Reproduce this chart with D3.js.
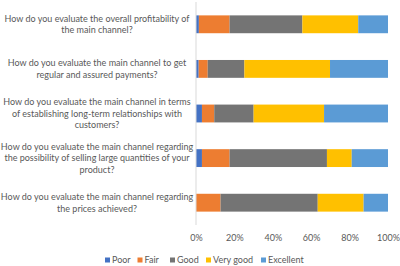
<!DOCTYPE html>
<html>
<head>
<meta charset="utf-8">
<script src="https://cdn.jsdelivr.net/npm/d3@7"></script>
<style>
  body { margin: 0; background: #fff; }
  text { font-family: Lato, "Open Sans", sans-serif; fill: #595959; }
</style>
</head>
<body>
<svg id="chart"></svg>
<script>
const questions = [
  "How do you evaluate the overall profitability of the main channel?",
  "How do you evaluate the main channel to get regular and assured payments?",
  "How do you evaluate the main channel in terms of establishing long-term relationships with customers?",
  "How do you evaluate the main channel regarding the possibility of selling large quantities of your product?",
  "How do you evaluate the main channel regarding the prices achieved?"
];
// wrapped lines as they appear in the picture
const questionLines = [
  ["How do you evaluate the overall profitability of", "the main channel?"],
  ["How do you evaluate the main channel to get", "regular and assured payments?"],
  ["How do you evaluate the main channel in terms", "of establishing long-term relationships with", "customers?"],
  ["How do you evaluate the main channel regarding", "the possibility of selling large quantities of your", "product?"],
  ["How do you evaluate the main channel regarding", "the prices achieved?"]
];
const ratings = ["Poor", "Fair", "Good", "Very good", "Excellent"];
const poor      = [1.5, 1.4, 3.1, 3.1, 0];
const fair      = [16.0, 4.7, 6.4, 14.4, 12.8];
const good      = [37.9, 19.1, 20.5, 50.7, 50.6];
const veryGood  = [29.1, 44.6, 36.7, 12.9, 23.9];
const excellent = [15.5, 30.2, 33.3, 18.9, 12.7];
const xTicks = [0, 0.2, 0.4, 0.6, 0.8, 1];
const colors = ["#4472C4", "#ED7D31", "#747474", "#FFC000", "#5B9BD5"];

const width = 400, height = 266;
const margin = {top: 2, right: 12, bottom: 42, left: 196};

const rows = questions.map((q, i) => ({
  q, Poor: poor[i], Fair: fair[i], Good: good[i], "Very good": veryGood[i], Excellent: excellent[i]
}));
const stacked = d3.stack().keys(ratings).offset(d3.stackOffsetExpand)(rows);

const svg = d3.select("#chart").attr("width", width).attr("height", height);

const x = d3.scaleLinear().domain([0, 1]).range([margin.left, width - margin.right]);
const y = d3.scaleBand().domain(questions).range([margin.top, 225]).paddingInner(0.6).paddingOuter(0.3);
const color = d3.scaleOrdinal().domain(ratings).range(colors);

svg.append("g")
  .selectAll("g")
  .data(stacked)
  .join("g")
    .attr("fill", d => color(d.key))
  .selectAll("rect")
  .data(d => d)
  .join("rect")
    .attr("x", d => x(d[0]))
    .attr("width", d => x(d[1]) - x(d[0]))
    .attr("y", d => y(d.data.q))
    .attr("height", y.bandwidth());

// vertical axis line
svg.append("line")
  .attr("x1", x(0)).attr("x2", x(0))
  .attr("y1", margin.top).attr("y2", 225)
  .attr("stroke", "#d9d9d9").attr("stroke-width", 1);

// category labels
const labels = svg.append("g")
  .selectAll("text")
  .data(questions)
  .join("text")
    .attr("text-anchor", "middle")
    .attr("font-size", 9);
labels.each(function(q, i) {
  const lines = questionLines[i];
  const cy = y(q) + y.bandwidth() / 2;
  const lh = 11.3;
  d3.select(this).selectAll("tspan")
    .data(lines)
    .join("tspan")
      .attr("x", 97)
      .attr("y", (d, j) => cy + (j - (lines.length - 1) / 2) * lh)
      .attr("dy", "0.35em")
      .text(d => d);
});

// x axis
const xAxis = d3.axisBottom(x).tickValues(xTicks).tickFormat(d3.format(".0%")).tickSize(0).tickPadding(0);
svg.append("g")
  .attr("transform", "translate(0,235)")
  .call(xAxis)
  .call(g => g.select(".domain").remove())
  .call(g => g.selectAll("text").attr("font-size", 9).attr("fill", "#595959").attr("font-family", "Lato, sans-serif"));

// legend
const legendX = [105, 137.5, 170, 206, 261];
const legend = svg.append("g")
  .selectAll("g")
  .data(ratings)
  .join("g")
    .attr("transform", (d, i) => `translate(${legendX[i]},260)`);
legend.append("rect")
  .attr("x", 0).attr("y", -2.5).attr("width", 5).attr("height", 5)
  .attr("fill", d => color(d));
legend.append("text")
  .attr("x", 7).attr("dy", "0.35em")
  .attr("font-size", 9)
  .text(d => d);
</script>
</body>
</html>
